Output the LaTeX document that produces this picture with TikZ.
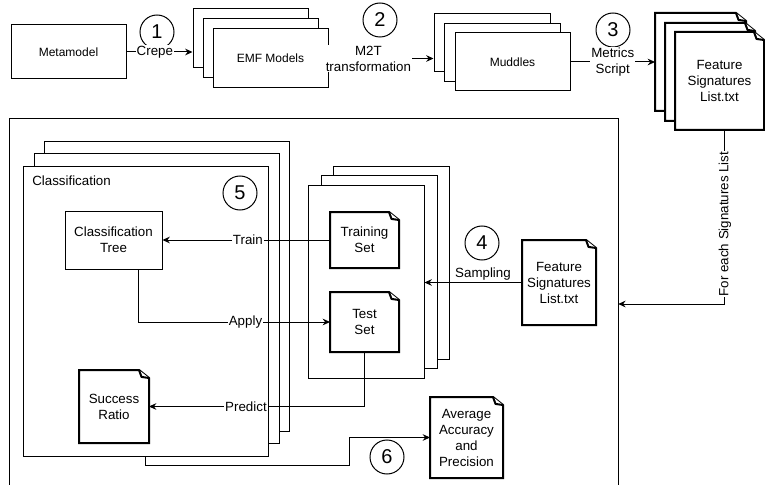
\documentclass[tikz,border=0pt]{standalone}
\usepackage{fontspec}
\setmainfont{Liberation Sans}
\usetikzlibrary{arrows.meta,calc}
\newcommand\fsz{\fontsize{10}{12}\selectfont}
\newcommand\ssz{\fontsize{9}{11}\selectfont}
% style, name, x1, y1, x2, y2, text
\newcommand\mkbox[7]{%
  \pgfmathsetmacro\mycx{(#3+#5)/2}\pgfmathsetmacro\mycy{(#4+#6)/2}%
  \pgfmathsetmacro\mybw{(#5-#3)*0.75}\pgfmathsetmacro\mybh{(#6-#4)*0.75}%
  \node[#1, minimum width=\mybw pt, minimum height=\mybh pt] (#2) at (\mycx,\mycy) {#7};}
% name, x1, y1, x2, y2, text
\newcommand\mkdoc[6]{%
  \pgfmathsetmacro\mycx{(#2+#4)/2}\pgfmathsetmacro\mycy{(#3+#5)/2}%
  \pgfmathsetmacro\mybw{(#4-#2)*0.75}\pgfmathsetmacro\mybh{(#5-#3)*0.75}%
  \path (\mycx,\mycy) node[minimum width=\mybw pt, minimum height=\mybh pt, inner sep=0pt, outer sep=0.75pt] (#1) {};
  \filldraw[docline] (#1.south west) -- (#1.north west) -- ([xshift=-7.5pt]#1.north east)
     -- ([yshift=-6pt]#1.north east) -- (#1.south east) -- cycle;
  \draw[docline, line join=round] ([xshift=-7.5pt]#1.north east) -- ([xshift=-5.6pt,yshift=-5.2pt]#1.north east)
     -- ([yshift=-6pt]#1.north east);
  \node[doctext] (#1-t) at (#1.center) {#6};}
\begin{document}
\begin{tikzpicture}[x=0.75pt,y=-0.75pt,
  box/.style={draw, line width=0.75pt, fill=white, inner sep=0pt, align=center, font=\ssz},
  frame/.style={line width=0.75pt},
  docline/.style={line width=1.5pt, draw=black, fill=white},
  doctext/.style={inner sep=0pt, align=center, font=\fsz},
  circ/.style={draw, circle, line width=0.75pt, minimum size=25.5pt, inner sep=0pt, fill=white, font=\fontsize{15}{15}\selectfont},
  arr/.style={draw, line width=0.75pt, -{Stealth[length=5.5pt, width=5pt, inset=1.8pt]}},
  lbl/.style={fill=white, inner sep=0.6pt, align=center, font=\fsz}]
\useasboundingbox (0,0) rectangle (765,485);

% ---------- top row ----------
\mkbox{box}{meta}{11}{25}{126}{79}{Metamodel}
\mkbox{box}{emf3}{193}{9}{308}{68}{}
\mkbox{box}{emf2}{203}{19}{318}{78}{}
\mkbox{box}{emf1}{213}{29}{328}{88}{EMF Models}
\mkbox{box}{mud3}{434}{14}{550}{72}{}
\mkbox{box}{mud2}{444}{24}{560}{82}{}
\mkbox{box}{mud1}{455}{33}{570}{91}{Muddles}
\mkdoc{feat3}{656}{14}{745}{110}{}
\mkdoc{feat2}{666}{24}{754}{120}{}
\mkdoc{feat1}{676}{33}{763}{129}{Feature\\Signatures\\List.txt}

% ---------- outer frame ----------
\path (314,303) node[minimum width=456pt, minimum height=276pt, inner sep=0pt] (outer) {};
\draw[frame] (outer.south west) -- (outer.north west) -- (outer.north east) -- (outer.south east);

% ---------- classification stack ----------
\mkbox{box}{cls3}{44}{142}{289}{431}{}
\mkbox{box}{cls2}{34}{154}{279}{443}{}
\mkbox{box}{cls1}{23}{167}{268}{456}{}
\node[anchor=west, inner sep=0pt, font=\fsz] (clslbl) at (32,181) {Classification};
\mkbox{box, font=\fsz}{ctree}{65}{211}{162}{269}{Classification\\Tree}
\mkdoc{sratio}{80}{371}{148}{442}{Success\\Ratio}

% ---------- training / test stack ----------
\mkbox{box}{tt3}{333}{167}{449}{359}{}
\mkbox{box}{tt2}{321}{176}{437}{368}{}
\mkbox{box}{tt1}{308}{186}{424}{378}{}
\mkdoc{train}{331}{213}{398}{267}{Training\\Set}
\mkdoc{test}{331}{293}{398}{351}{Test\\Set}

\mkdoc{fsig}{523}{241}{595}{324}{Feature\\Signatures\\List.txt}
\mkdoc{avg}{431}{398}{502}{477}{Average\\Accuracy\\and\\Precision}

% ---------- step numbers ----------
\node[circ] (n1) at (157,32) {1};
\node[circ] (n2) at (380,20) {2};
\node[circ] (n3) at (613,30) {3};
\node[circ] (n4) at (482,243) {4};
\node[circ] (n5) at (240,193) {5};
\node[circ] (n6) at (387,457) {6};

% ---------- connectors ----------
\draw[arr] (meta.east) -- node[lbl, pos=0.43] (lcrepe) {Crepe} (emf3.west |- meta.east);
\draw[arr] (emf1.east) -- node[lbl, pos=0.38] (lm2t) {M2T\\transformation} (mud3.west |- emf1.east);
\draw[arr] (mud1.east) -- node[lbl, pos=0.5] (lmet) {Metrics\\Script} (feat3.west |- mud1.east);
\draw[arr] ([xshift=4pt]feat1.south) |- node[lbl, rotate=90, pos=0.27] (lfor) {For each Signatures List} (outer.east |- 0,304);
\draw[arr] (fsig.west) -- node[above, pos=0.4, inner sep=1.5pt, font=\fsz] (lsamp) {Sampling} (tt1.east |- fsig.west);
\draw[arr] (train.west) -- node[lbl, pos=0.49] (ltrain) {Train} (ctree.east);
\draw[arr] ($(ctree.south)!0.5!(ctree.south east)$) |- node[lbl, pos=0.78] (lapply) {Apply} (test.west);
\draw[arr] (test.south) |- node[lbl, pos=0.775] (lpred) {Predict} (sratio.east);
\draw[arr] (cls1.south) -- ++(0,9) -| ($(avg.west)+(-81,0)$) -- (avg.west);
\end{tikzpicture}
\end{document}
